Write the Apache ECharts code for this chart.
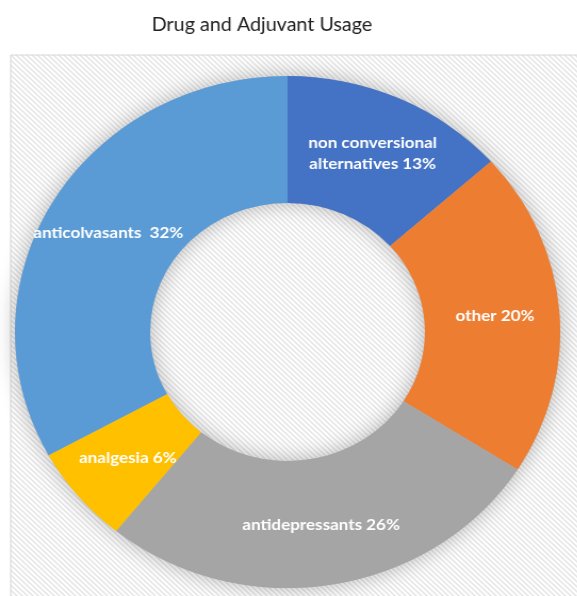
<!DOCTYPE html>
<html>
<head>
<meta charset="utf-8">
<script src="https://cdn.jsdelivr.net/npm/echarts@6/dist/echarts.min.js"></script>
<style>
  html, body { margin: 0; padding: 0; background: #fff; overflow: hidden; }
  /* 原图横向略有拉伸 */
  #main { width: 542px; height: 596px; transform: scaleX(1.065); transform-origin: 0 0; }
</style>
</head>
<body>
<div id="main"></div>
<script>
// 类别名称（顺时针，从12点方向开始）
var categories = ['non conversional\nalternatives', 'other', 'antidepressants', 'analgesia', 'anticolvasants '];
// 百分比
var values = [13, 20, 26, 6, 32];
var colors = ['#4472C4', '#ED7D31', '#A5A5A5', '#FFC000', '#5B9BD5'];

// 斜线底纹
function makeHatch() {
	var c = document.createElement('canvas');
	c.width = 5;
	c.height = 5;
	var ctx = c.getContext('2d');
	ctx.fillStyle = '#ffffff';
	ctx.fillRect(0, 0, 5, 5);
	ctx.strokeStyle = '#e4e4e4';
	ctx.lineWidth = 1.4;
	ctx.beginPath();
	ctx.moveTo(-1, -1);
	ctx.lineTo(6, 6);
	ctx.moveTo(-1, 4);
	ctx.lineTo(1, 6);
	ctx.moveTo(4, -1);
	ctx.lineTo(6, 1);
	ctx.stroke();
	return c;
}

var pieData = [];
for (var i = 0; i < categories.length; i++) {
	pieData.push({
		name: categories[i],
		value: values[i],
		itemStyle: { color: colors[i] }
	});
}

var total = 0;
for (var k = 0; k < values.length; k++) total += values[k];

var option = {
	animation: false,
	title: {
		text: 'Drug and Adjuvant Usage',
		left: 241,
		textAlign: 'center',
		top: 11,
		textStyle: {
			fontFamily: 'Lato',
			fontSize: 18.5,
			fontWeight: 'normal',
			color: '#222'
		}
	},
	graphic: [{
		type: 'rect',
		z: -10,
		shape: { x: 10, y: 55, width: 560, height: 545 },
		style: {
			fill: { image: makeHatch(), repeat: 'repeat' },
			stroke: '#d6d6d6',
			lineWidth: 1
		},
		silent: true
	}],
	series: [{
		// 阴影底环
		type: 'pie',
		silent: true,
		z: 1,
		center: [270, 332],
		radius: [129, 256],
		startAngle: 90,
		label: { show: false },
		labelLine: { show: false },
		itemStyle: {
			color: '#bbb',
			shadowBlur: 20,
			shadowColor: 'rgba(0,0,0,0.28)'
		},
		data: [total]
	}, {
		type: 'pie',
		z: 2,
		center: [270, 332],
		radius: [129, 256],
		startAngle: 90,
		clockwise: true,
		avoidLabelOverlap: false,
		itemStyle: { borderWidth: 0 },
		label: {
			show: true,
			position: 'inside',
			color: '#fff',
			fontFamily: 'Lato',
			fontWeight: 'bold',
			fontSize: 16,
			lineHeight: 21,
			formatter: function(p) {
				return p.name + ' ' + p.value + '%';
			}
		},
		labelLine: { show: false },
		emphasis: { disabled: true },
		data: pieData
	}]
};

var myChart = echarts.init(document.getElementById('main'));
myChart.setOption(option);
</script>
</body>
</html>
